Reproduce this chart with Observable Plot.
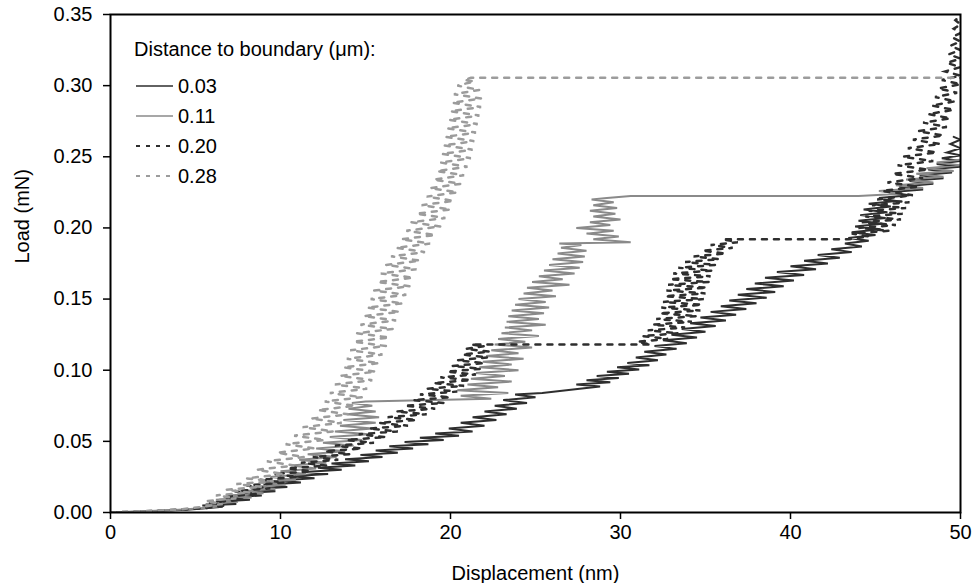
<!DOCTYPE html>
<html><head><meta charset="utf-8">
<script src="https://cdn.jsdelivr.net/npm/d3@7"></script>
<script src="https://cdn.jsdelivr.net/npm/@observablehq/plot@0.6"></script>
<style>body{margin:0;background:#fff;}</style>
</head><body><div id="chart"></div>
<script>
const seriesNames = ["0.03", "0.11", "0.20", "0.28"];
const legendTitle = "Distance to boundary (μm):";
const xLabel = "Displacement (nm)";
const yLabel = "Load (mN)";
const xTicks = [0, 10, 20, 30, 40, 50];
const yTicks = [0, 0.05, 0.10, 0.15, 0.20, 0.25, 0.30, 0.35];

// [displacement nm, load mN]
const s003 = [[0,0],[1.5,0.0006],[3,0.0012],[4.5,0.002],[5.6,0.003],[6.6,0.004],[5.4,0.005],[7.4,0.006],[6.2,0.0075],[8.2,0.009],[6.9,0.0105],[8.9,0.012],[7.6,0.0135],[9.7,0.015],[8.3,0.0165],[10.4,0.018],[9,0.0195],[11.2,0.021],[9.8,0.0225],[12,0.024],[10.6,0.0255],[12.8,0.027],[11.4,0.0285],[13.6,0.030],[12.2,0.0315],[14.4,0.033],[13,0.0345],[15.2,0.036],[13.8,0.0375],[16,0.039],[14.7,0.0405],[16.9,0.042],[15.6,0.0435],[17.8,0.045],[16.4,0.0465],[18.7,0.048],[17.3,0.0495],[19.6,0.051],[18.2,0.0525],[20.5,0.054],[19.1,0.0555],[21.3,0.057],[19.9,0.059],[22,0.061],[20.6,0.063],[22.7,0.065],[21.3,0.067],[23.3,0.069],[22,0.071],[23.9,0.073],[22.6,0.075],[24.5,0.077],[23.1,0.079],[25,0.081],[23.8,0.083],[25.4,0.084],[27.6,0.087],[28.8,0.0885],[27.4,0.090],[29.4,0.0915],[28,0.093],[29.9,0.0945],[28.6,0.096],[30.5,0.0975],[29.2,0.099],[31.1,0.1005],[29.8,0.102],[31.7,0.1035],[30.4,0.105],[32.2,0.107],[30.9,0.109],[32.7,0.111],[31.4,0.113],[33.3,0.115],[32,0.117],[33.9,0.119],[32.5,0.121],[34.5,0.123],[33,0.125],[35,0.127],[33.6,0.129],[35.6,0.131],[34.1,0.133],[36.2,0.135],[34.7,0.137],[36.8,0.139],[35.3,0.141],[37.4,0.143],[35.9,0.145],[38,0.147],[36.4,0.149],[38.6,0.151],[36.9,0.153],[39.1,0.155],[37.4,0.157],[39.6,0.159],[37.9,0.161],[40.2,0.163],[38.5,0.165],[40.8,0.167],[39.2,0.169],[41.5,0.171],[40,0.173],[42.2,0.175],[40.8,0.177],[42.9,0.179],[41.6,0.181],[43.6,0.183],[42.4,0.185],[44.2,0.187],[43.2,0.189],[44.6,0.191],[43.4,0.193],[45,0.195],[43.6,0.197],[45.3,0.199],[43.8,0.201],[45.4,0.203],[44,0.205],[45.6,0.207],[44.1,0.209],[45.7,0.211],[44.3,0.213],[45.9,0.215],[44.6,0.217],[46.2,0.219],[45.2,0.221],[47,0.223],[45.8,0.225],[47.8,0.227],[46.4,0.229],[48.4,0.231],[47,0.233],[49,0.235],[47.6,0.237],[49.5,0.239],[48.1,0.241],[50,0.243],[48.6,0.245],[50,0.247],[48.9,0.249],[50,0.251],[49.2,0.253],[50,0.256],[49.4,0.259],[50,0.262],[49.6,0.264]];

const s011 = [[0,0],[2,0.0008],[4,0.002],[5.4,0.003],[6.6,0.0045],[5.6,0.006],[7.5,0.0075],[6.2,0.009],[8.3,0.0105],[6.9,0.012],[9,0.0135],[7.6,0.015],[9.7,0.0165],[8.2,0.018],[10.3,0.0195],[8.8,0.021],[10.9,0.023],[9.4,0.025],[11.5,0.027],[10,0.029],[12.1,0.031],[10.6,0.033],[12.7,0.035],[11.1,0.037],[13.3,0.039],[11.6,0.041],[13.8,0.043],[12.1,0.045],[14.3,0.047],[12.5,0.049],[14.8,0.051],[12.9,0.053],[15.2,0.055],[13.2,0.057],[15.4,0.059],[13.5,0.061],[15.6,0.063],[13.7,0.065],[15.8,0.067],[13.9,0.069],[15.6,0.071],[14,0.073],[15.4,0.075],[14.2,0.077],[15,0.078],[22.4,0.080],[20.6,0.082],[23.4,0.084],[20.4,0.086],[22.8,0.088],[21,0.090],[23.6,0.092],[21.2,0.094],[23.2,0.096],[21.5,0.098],[24,0.100],[21.7,0.102],[23.6,0.104],[21.9,0.106],[24.3,0.108],[22.1,0.110],[24,0.112],[22.4,0.114],[24.8,0.116],[22.6,0.118],[24.4,0.120],[22.8,0.122],[25.2,0.124],[23,0.126],[24.8,0.128],[23.2,0.130],[25.6,0.132],[23.3,0.134],[25.2,0.136],[23.4,0.138],[25.5,0.140],[23.6,0.142],[25.8,0.144],[23.8,0.146],[25.6,0.148],[24,0.150],[26.2,0.152],[24.3,0.154],[26,0.156],[24.5,0.158],[27,0.160],[24.8,0.162],[26.6,0.164],[25.2,0.166],[27.3,0.168],[25.5,0.170],[27.6,0.172],[25.8,0.174],[27.8,0.176],[26,0.178],[27.9,0.180],[26.3,0.182],[28,0.184],[26.5,0.186],[27.7,0.188],[26.4,0.189],[30.6,0.190],[28.4,0.192],[29.9,0.194],[28,0.196],[29.6,0.198],[27.4,0.200],[29.4,0.202],[28.2,0.204],[30,0.206],[28.4,0.208],[29.7,0.210],[28.2,0.212],[29.8,0.214],[28.4,0.216],[29.6,0.218],[28.3,0.220],[29.2,0.221],[30.6,0.2225],[44,0.2225],[46.5,0.224],[45.2,0.226],[47.8,0.228],[46.2,0.230],[48.4,0.232],[46.8,0.234],[49,0.236],[47.4,0.238],[49.6,0.240],[48,0.242],[50,0.244],[48.6,0.246],[50,0.248]];

const s020 = [[0,0],[2,0.0008],[4,0.002],[5.5,0.003],[6.8,0.005],[5.8,0.007],[7.8,0.009],[6.6,0.011],[8.6,0.013],[7.3,0.015],[9.4,0.017],[8,0.019],[10.2,0.021],[8.8,0.023],[11,0.025],[9.6,0.027],[11.8,0.029],[10.4,0.031],[12.7,0.033],[11.2,0.035],[13.4,0.037],[11.9,0.039],[14.1,0.041],[12.6,0.043],[14.8,0.045],[13.2,0.047],[15.5,0.049],[13.9,0.051],[16.2,0.053],[14.6,0.055],[16.9,0.057],[15.2,0.059],[17.5,0.061],[15.8,0.063],[18,0.065],[16.3,0.067],[18.6,0.069],[16.8,0.071],[19.1,0.073],[17.3,0.075],[19.6,0.077],[17.8,0.079],[20,0.081],[18.2,0.083],[20.4,0.085],[18.6,0.087],[20.8,0.089],[19,0.091],[21.2,0.093],[19.4,0.095],[21.5,0.097],[19.8,0.099],[21.8,0.101],[20.1,0.103],[22,0.105],[20.4,0.107],[22.2,0.109],[20.7,0.111],[22.3,0.113],[20.9,0.115],[22,0.117],[21.2,0.118],[31.8,0.118],[31,0.120],[32.8,0.122],[31.3,0.124],[33.4,0.126],[31.6,0.128],[33.8,0.130],[31.9,0.132],[34.2,0.134],[32.1,0.136],[34.5,0.138],[32.3,0.140],[34.7,0.142],[32.4,0.144],[34.8,0.146],[32.5,0.148],[34.9,0.150],[32.6,0.152],[35,0.154],[32.7,0.156],[35.1,0.158],[32.8,0.160],[35.2,0.162],[32.9,0.164],[35.3,0.166],[33.1,0.168],[35.4,0.170],[33.4,0.172],[35.6,0.174],[33.8,0.176],[35.8,0.178],[34.3,0.180],[36.2,0.182],[34.8,0.184],[36.6,0.186],[35.3,0.188],[36.9,0.190],[36,0.192],[43.4,0.192],[44.6,0.194],[43.6,0.196],[45.8,0.198],[44,0.200],[46.2,0.202],[44.2,0.204],[46.5,0.206],[44.4,0.208],[46.6,0.210],[44.6,0.212],[46.8,0.214],[44.8,0.216],[47,0.218],[45.1,0.220],[47.2,0.223],[45.4,0.226],[47.5,0.229],[45.7,0.232],[47.8,0.235],[46,0.238],[48.1,0.241],[46.3,0.244],[48.4,0.247],[46.6,0.250],[48.6,0.253],[46.9,0.256],[48.8,0.259],[47.2,0.262],[49,0.265],[47.5,0.268],[49.2,0.271],[47.8,0.274],[49.4,0.277],[48.1,0.280],[49.6,0.283],[48.3,0.286],[49.7,0.289],[48.5,0.292],[49.8,0.295],[48.7,0.298],[50,0.301],[48.9,0.304],[50,0.307],[49.1,0.310],[50,0.313],[49.2,0.316],[50,0.319],[49.3,0.322],[50,0.325],[49.4,0.328],[50,0.331],[49.5,0.334],[50,0.337],[49.6,0.340],[50,0.343],[49.7,0.346],[50,0.349]];

const s028 = [[0,0],[2,0.001],[4,0.002],[5.4,0.004],[6.6,0.006],[5.6,0.008],[7.4,0.010],[6.2,0.012],[8.2,0.014],[6.8,0.016],[8.9,0.018],[7.4,0.020],[9.6,0.022],[8,0.024],[10.2,0.027],[8.6,0.030],[10.8,0.033],[9.2,0.036],[11.4,0.039],[9.8,0.042],[12,0.045],[10.3,0.048],[12.6,0.051],[10.8,0.054],[13.1,0.057],[11.3,0.060],[13.6,0.063],[11.8,0.066],[14,0.069],[12.2,0.072],[14.4,0.075],[12.6,0.078],[14.8,0.081],[12.9,0.084],[15.1,0.087],[13.2,0.090],[15.4,0.093],[13.5,0.096],[15.6,0.099],[13.7,0.102],[15.8,0.105],[13.9,0.108],[16,0.111],[14.1,0.114],[16.2,0.117],[14.3,0.120],[16.4,0.123],[14.5,0.126],[16.6,0.129],[14.7,0.132],[16.8,0.135],[14.9,0.138],[17,0.141],[15.1,0.144],[17.2,0.147],[15.3,0.150],[17.4,0.153],[15.5,0.156],[17.6,0.159],[15.7,0.162],[17.8,0.165],[15.9,0.168],[18,0.171],[16.2,0.174],[18.2,0.177],[16.5,0.180],[18.5,0.183],[16.8,0.186],[18.8,0.189],[17.1,0.192],[19.1,0.195],[17.4,0.198],[19.4,0.201],[17.7,0.204],[19.7,0.207],[18,0.210],[20,0.213],[18.3,0.216],[20.2,0.219],[18.6,0.222],[20.4,0.225],[18.8,0.228],[20.6,0.231],[19,0.234],[20.8,0.237],[19.2,0.240],[21,0.243],[19.4,0.246],[21.2,0.249],[19.5,0.252],[21.3,0.255],[19.6,0.258],[21.4,0.261],[19.7,0.264],[21.5,0.267],[19.8,0.270],[21.6,0.273],[19.9,0.276],[21.7,0.279],[20,0.282],[21.8,0.285],[20.1,0.288],[21.8,0.291],[20.2,0.294],[21.7,0.297],[20.4,0.300],[21.4,0.303],[20.8,0.304],[21.2,0.3055],[50,0.3055]];

const seriesData = [s003, s011, s020, s028];
const seriesColors = ["#2e2e2e", "#8a8a8a", "#2e2e2e", "#9c9c9c"];
const seriesDash = [null, null, "5,7", "5,7"];
const seriesWidth = [2, 2, 2.5, 2.5];

const toRows = (arr) => arr.map(([x, y]) => ({x, y}));

const lineMarks = seriesData.map((arr, i) => Plot.line(toRows(arr), {
  x: "x", y: "y", stroke: seriesColors[i], strokeWidth: seriesWidth[i],
  strokeDasharray: seriesDash[i], strokeLinejoin: "miter", strokeMiterlimit: 4, clip: true
}));

const chart = Plot.plot({
  width: 974, height: 583,
  marginLeft: 110, marginRight: 14, marginTop: 14, marginBottom: 71,
  style: {fontFamily: "'Liberation Sans', Arial, Helvetica, sans-serif", fontSize: "20px", background: "#fff", color: "#000"},
  x: {domain: [0, 50]},
  y: {domain: [0, 0.35]},
  marks: [
    ...lineMarks,
    Plot.frame({stroke: "#000", strokeWidth: 2}),
    Plot.axisX({ticks: xTicks, tickSize: 7, tickPadding: 5, label: null, fontSize: 20, strokeWidth: 1.5}),
    Plot.axisY({ticks: yTicks, tickFormat: d3.format(".2f"), tickSize: 7, tickPadding: 11, label: null, fontSize: 20, strokeWidth: 1.5}),
    Plot.text([xLabel], {frameAnchor: "bottom", dy: 61, text: d => d, fontSize: 20, lineAnchor: "middle"}),
    Plot.text([yLabel], {frameAnchor: "left", dx: -88, rotate: -90, text: d => d, fontSize: 20, lineAnchor: "middle"})
  ]
});

document.getElementById("chart").appendChild(chart);

// legend inside the plot area (top-left)
const svg = d3.select(chart);
const lg = svg.append("g").attr("transform", "translate(134,49)")
  .attr("text-anchor", "start")
  .style("font-family", "'Liberation Sans', Arial, Helvetica, sans-serif").style("font-size", "20px");
lg.append("text").attr("x", 0).attr("y", 0).attr("dy", "0.35em").attr("text-anchor", "start").text(legendTitle);
seriesNames.forEach((name, i) => {
  const yy = 37 + i * 30;
  lg.append("line").attr("x1", 2).attr("x2", 39).attr("y1", yy).attr("y2", yy)
    .attr("stroke", seriesColors[i]).attr("stroke-width", seriesDash[i] ? 2.2 : 1.6)
    .attr("stroke-dasharray", seriesDash[i] ? "4,6" : null);
  lg.append("text").attr("x", 44).attr("y", yy).attr("dy", "0.35em").attr("text-anchor", "start").text(name);
});
</script>
</body></html>
